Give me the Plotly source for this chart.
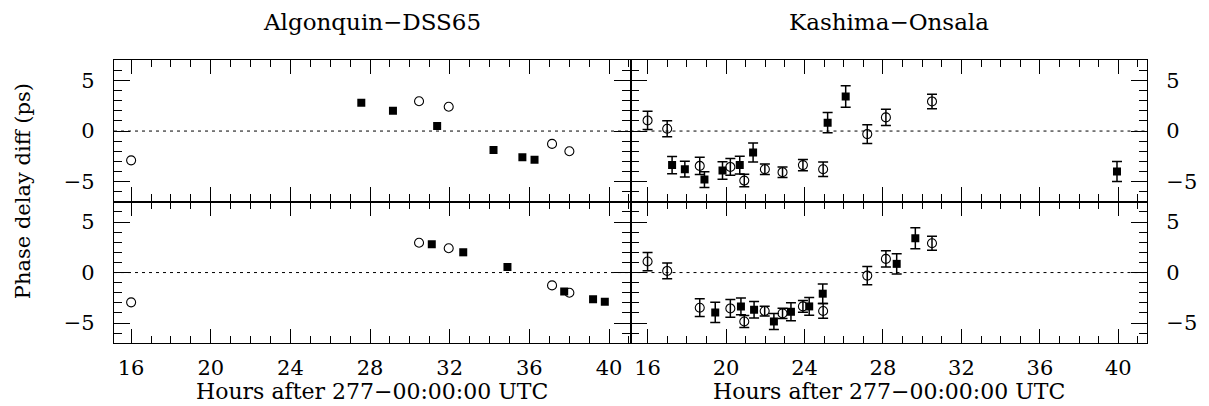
import plotly.graph_objects as go
from plotly.subplots import make_subplots

# ---------------- data ----------------
# Algonquin-DSS65, upper panel
al_top_circ_x = [16.0, 30.46, 31.95, 37.14, 38.01]
al_top_circ_y = [-2.9, 2.95, 2.4, -1.27, -2.0]
al_top_sq_x = [27.56, 29.15, 31.37, 34.2, 35.65, 36.26]
al_top_sq_y = [2.8, 2.0, 0.5, -1.87, -2.6, -2.85]

# Algonquin-DSS65, lower panel
al_bot_circ_x = [16.0, 30.46, 31.95, 37.14, 38.01]
al_bot_circ_y = [-2.95, 2.95, 2.4, -1.27, -2.0]
al_bot_sq_x = [31.1, 32.68, 34.9, 37.75, 39.2, 39.79]
al_bot_sq_y = [2.8, 2.0, 0.55, -1.87, -2.65, -2.9]

# Kashima-Onsala, upper panel
ko_top_circ_x = [16.0, 17.0, 18.66, 20.22, 20.93, 21.98, 22.88, 23.92, 24.95, 27.2, 28.15, 30.5]
ko_top_circ_y = [1.05, 0.23, -3.45, -3.55, -4.9, -3.78, -4.07, -3.37, -3.78, -0.3, 1.35, 2.93]
ko_top_circ_e = [0.9, 0.8, 0.86, 0.83, 0.62, 0.53, 0.52, 0.55, 0.72, 0.92, 0.8, 0.72]
ko_top_sq_x = [17.25, 17.9, 18.9, 19.82, 20.7, 21.38, 25.18, 26.1, 39.93]
ko_top_sq_y = [-3.37, -3.77, -4.8, -3.9, -3.37, -2.12, 0.83, 3.42, -4.0]
ko_top_sq_e = [0.85, 0.78, 0.78, 0.86, 0.88, 0.93, 1.0, 1.07, 0.98]

# Kashima-Onsala, lower panel
ko_bot_circ_x = [16.0, 17.0, 18.66, 20.22, 20.93, 21.97, 22.88, 23.92, 24.95, 27.2, 28.15, 30.5]
ko_bot_circ_y = [1.09, 0.16, -3.48, -3.55, -4.84, -3.81, -4.04, -3.35, -3.8, -0.3, 1.35, 2.9]
ko_bot_circ_e = [0.9, 0.78, 0.88, 0.88, 0.6, 0.48, 0.51, 0.58, 0.73, 0.9, 0.8, 0.7]
ko_bot_sq_x = [19.45, 20.76, 21.43, 22.44, 23.31, 24.24, 24.93, 28.7, 29.65]
ko_bot_sq_y = [-3.94, -3.35, -3.68, -4.84, -3.88, -3.35, -2.09, 0.86, 3.4]
ko_bot_sq_e = [1.0, 0.83, 0.81, 0.8, 0.9, 0.88, 0.96, 1.0, 1.04]

titles = ["Algonquin\u2212DSS65", "Kashima\u2212Onsala"]
xlabel = "Hours after 277\u221200:00:00 UTC"
ylabel = "Phase delay diff (ps)"
xticks = [16, 20, 24, 28, 32, 36, 40]

# ---------------- figure ----------------
FONT = "DejaVu Serif"
fig = make_subplots(rows=2, cols=2, horizontal_spacing=0, vertical_spacing=0)

circ_style = dict(symbol="circle-open", size=9, color="black", line=dict(width=1.1, color="black"))
sq_style = dict(symbol="square", size=8, color="black", line=dict(width=0))


def err(vals):
    return dict(type="data", array=vals, visible=True, color="black", thickness=1.5, width=5)


def add(x, y, style, row, col, e=None):
    kw = dict(x=x, y=y, mode="markers", marker=style, showlegend=False, hoverinfo="skip")
    if e is not None:
        kw["error_y"] = err(e)
    fig.add_trace(go.Scatter(**kw), row=row, col=col)


add(al_top_circ_x, al_top_circ_y, circ_style, 1, 1)
add(al_top_sq_x, al_top_sq_y, sq_style, 1, 1)
add(al_bot_circ_x, al_bot_circ_y, circ_style, 2, 1)
add(al_bot_sq_x, al_bot_sq_y, sq_style, 2, 1)
add(ko_top_circ_x, ko_top_circ_y, circ_style, 1, 2, ko_top_circ_e)
add(ko_top_sq_x, ko_top_sq_y, sq_style, 1, 2, ko_top_sq_e)
add(ko_bot_circ_x, ko_bot_circ_y, circ_style, 2, 2, ko_bot_circ_e)
add(ko_bot_sq_x, ko_bot_sq_y, sq_style, 2, 2, ko_bot_sq_e)

for r in (1, 2):
    for c in (1, 2):
        fig.add_hline(y=0, line=dict(color="black", width=1, dash="3px,4px"), row=r, col=c)

tickfont = dict(family=FONT, size=21, color="black")
xranges = {1: [15.14, 41.08], 2: [15.13, 41.46]}
for r in (1, 2):
    for c in (1, 2):
        fig.update_xaxes(
            range=xranges[c], tickmode="array", tickvals=xticks,
            ticktext=[str(v) for v in xticks],
            ticks="inside", ticklen=14, tickwidth=1, tickcolor="black",
            minor=dict(dtick=1, tick0=16, ticks="inside", ticklen=7, tickwidth=1, tickcolor="black"),
            showline=True, linecolor="black", linewidth=1.3, mirror="ticks",
            showgrid=False, zeroline=False,
            showticklabels=(r == 2), tickfont=tickfont, ticklabelstandoff=6,
            row=r, col=c,
        )
        fig.update_yaxes(
            range=[-6.97, 7.03], tickmode="array", tickvals=[-5, 0, 5],
            ticks="inside", ticklen=16, tickwidth=1, tickcolor="black",
            minor=dict(dtick=1, tick0=0, ticks="inside", ticklen=8, tickwidth=1, tickcolor="black"),
            showline=True, linecolor="black", linewidth=1.3, mirror="ticks",
            showgrid=False, zeroline=False,
            side=("left" if c == 1 else "right"),
            tickfont=tickfont, ticklabelstandoff=14,
            row=r, col=c,
        )

annotations = []
for i, cx in enumerate([0.25, 0.75]):
    annotations.append(dict(text=titles[i], x=cx, y=1.134, xref="paper", yref="paper",
                            showarrow=False, xanchor="center", yanchor="middle",
                            font=dict(family=FONT, size=23, color="black")))
    annotations.append(dict(text=xlabel, x=cx, y=-0.170, xref="paper", yref="paper",
                            showarrow=False, xanchor="center", yanchor="middle",
                            font=dict(family=FONT, size=22, color="black")))
annotations.append(dict(text=ylabel, x=-0.088, y=0.537, xref="paper", yref="paper",
                        showarrow=False, xanchor="center", yanchor="middle", textangle=-90,
                        font=dict(family=FONT, size=21, color="black")))

fig.update_layout(
    width=1209, height=406,
    margin=dict(l=114, r=51, t=60, b=63),
    paper_bgcolor="white", plot_bgcolor="white",
    showlegend=False, annotations=annotations,
)

fig.write_html("out.html")
